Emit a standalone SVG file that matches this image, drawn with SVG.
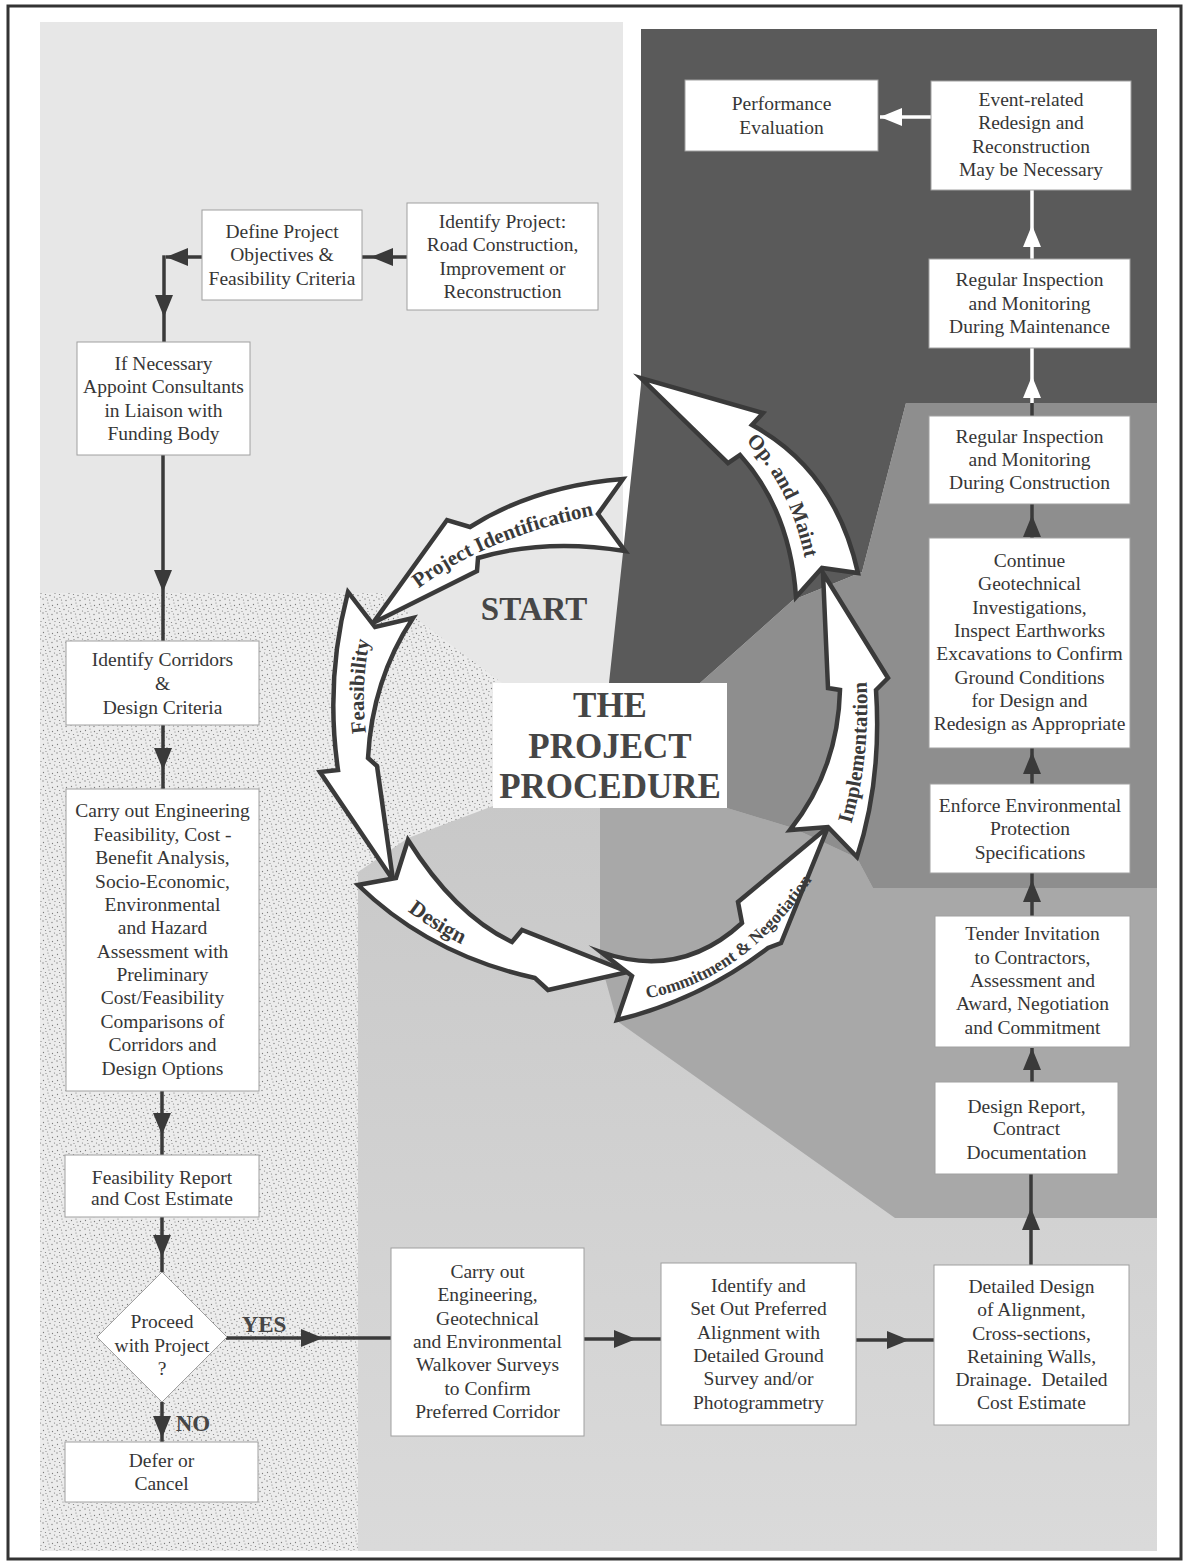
<svg xmlns="http://www.w3.org/2000/svg" width="1187" height="1564" viewBox="0 0 1187 1564">
<defs>
<style>
.t{font-family:"Liberation Serif","Times New Roman",serif;font-size:19.5px;fill:#363636;text-anchor:middle}
.box{fill:#fff;stroke:#a0a0a0;stroke-width:1}
.ln{fill:none;stroke:#3a3a3a;stroke-width:3.5}
.lnw{fill:none;stroke:#fff;stroke-width:3.5}
.arw{fill:#fff;stroke:#3a3a3a;stroke-width:4.5;stroke-linejoin:miter;stroke-miterlimit:10}
.al{font-family:"Liberation Serif","Times New Roman",serif;font-weight:bold;font-size:21px;fill:#3a3a3a}
.big{font-family:"Liberation Serif","Times New Roman",serif;font-weight:bold;fill:#464646;text-anchor:middle}
</style>
<marker id="ah" viewBox="0 0 22 18" refX="22" refY="9" markerWidth="22" markerHeight="18" markerUnits="userSpaceOnUse" orient="auto">
<path d="M0,0 L22,9 L0,18 Z" fill="#3a3a3a"/>
</marker>
<marker id="ahw" viewBox="0 0 22 18" refX="22" refY="9" markerWidth="22" markerHeight="18" markerUnits="userSpaceOnUse" orient="auto">
<path d="M0,0 L22,9 L0,18 Z" fill="#fff"/>
</marker>
<pattern id="stipple" width="14" height="14" patternUnits="userSpaceOnUse">
<rect width="14" height="14" fill="#ececec"/>
<g fill="#7c7c7c">
<circle cx="1.5" cy="2.5" r="0.65"/><circle cx="6" cy="1" r="0.6"/><circle cx="10.5" cy="3.5" r="0.65"/>
<circle cx="3.5" cy="6.5" r="0.6"/><circle cx="8" cy="7.5" r="0.65"/><circle cx="12.5" cy="9" r="0.6"/>
<circle cx="1" cy="11" r="0.65"/><circle cx="5.5" cy="12" r="0.6"/><circle cx="10" cy="12.5" r="0.65"/>
<circle cx="13" cy="5.5" r="0.6"/><circle cx="7" cy="4" r="0.55"/><circle cx="4" cy="9.5" r="0.55"/>
</g>
</pattern>
<linearGradient id="designShade" gradientUnits="userSpaceOnUse" x1="0" y1="800" x2="0" y2="1550">
<stop offset="0" stop-color="#c8c8c8"/>
<stop offset="1" stop-color="#dadada"/>
</linearGradient>
<!-- baselines for the phase labels on the cycle arrows -->
<path id="pPI" d="M409,596 Q480,537 606,513"/>
<path id="pFE" d="M368,745 Q358,690 372,628"/>
<path id="pDE" d="M392,898 Q428,930 480,953"/>
<path id="pCN" d="M636,1000 Q750,985 826,858"/>
<path id="pIM" d="M848,835 Q872,760 866,670"/>
<path id="pOM" d="M733,430 Q792,478 808,575"/>
</defs>

<rect width="1187" height="1564" fill="#fff"/>

<!-- shaded stage regions -->
<g id="regions">
<rect x="40" y="22" width="583" height="800" fill="#e7e7e7"/>
<rect x="358" y="805" width="799" height="746" fill="url(#designShade)"/>
<polygon points="40,593 382,593 502,683 493,806 408,838 358,872 358,1551 40,1551" fill="url(#stipple)"/>
<polygon points="600,808 727,808 793,828 857,858 873,888 1157,888 1157,1218 895,1218 617,1021 600,960" fill="#a8a8a8"/>
<polygon points="906,403 1157,403 1157,888 873,888 857,858 793,828 727,808 727,683 700,683 793,600 862,572" fill="#8e8e8e"/>
<polygon points="641,29 1157,29 1157,403 906,403 862,572 793,600 700,683 609,683 641,385" fill="#5a5a5a"/>
</g>

<rect x="8" y="6" width="1173" height="1553" fill="none" stroke="#333" stroke-width="3"/>

<!-- project cycle -->
<g id="cycle">
<g id="arrow-identification">
<path class="arw" d="M623,479 Q535,486 470,527 L447,520 L373,623 L477,571 L478,558 Q545,538 625,551 L598,514 Z"/>
<text class="al"><textPath href="#pPI" startOffset="50%" text-anchor="middle">Project Identification</textPath></text>
</g>
<g id="arrow-feasibility">
<path class="arw" d="M413,618 Q372,680 368,758 L377,766 L393,880 L320,772 L338,770 Q325,680 348,592 L375,627 Z"/>
<text class="al"><textPath href="#pFE" startOffset="50%" text-anchor="middle">Feasibility</textPath></text>
</g>
<g id="arrow-design">
<path class="arw" d="M408,840 Q455,915 512,942 L522,930 L628,972 L548,990 L535,978 Q430,955 358,885 L396,878 Z"/>
<text class="al" style="font-size:22px"><textPath href="#pDE" startOffset="50%" text-anchor="middle">Design</textPath></text>
</g>
<g id="arrow-commitment">
<path class="arw" d="M601,952 Q680,980 742,923 L738,902 L828,827 L781,943 L768,948 Q700,1000 617,1020 L632,976 Z"/>
<text class="al" style="font-size:17.5px"><textPath href="#pCN" startOffset="47%" text-anchor="middle">Commitment &amp; Negotiation</textPath></text>
</g>
<g id="arrow-implementation">
<path class="arw" d="M790,830 Q838,770 840,690 L828,688 L823,573 L888,678 L876,690 Q882,780 857,857 L828,827 Z"/>
<text class="al"><textPath href="#pIM" startOffset="50%" text-anchor="middle">Implementation</textPath></text>
</g>
<g id="arrow-operation">
<path class="arw" d="M858,573 Q835,470 752,425 L763,413 L641,378 L728,463 L740,455 Q790,510 796,597 L822,568 Z"/>
<text class="al"><textPath href="#pOM" startOffset="50%" text-anchor="middle">Op. and Maint</textPath></text>
</g>
<text id="start" class="big" x="534" y="620" font-size="33">START</text>
</g>

<g id="title">
<rect x="493" y="683" width="234" height="125" fill="#fff"/>
<text class="big" x="610" y="717" font-size="35">THE</text>
<text class="big" x="610" y="758" font-size="35">PROJECT</text>
<text class="big" x="610" y="798" font-size="35">PROCEDURE</text>
</g>

<!-- connectors -->
<g id="connectors">
<path class="ln" d="M407,257 L371,257 L362,257" marker-mid="url(#ah)"/>
<path class="ln" d="M202,257 L166,257" marker-end="url(#ah)"/>
<path class="ln" d="M164,255.3 L164,317 L164,342" marker-mid="url(#ah)"/>
<path class="ln" d="M163,455 L163,592 L163,641" marker-mid="url(#ah)"/>
<path class="ln" d="M163,725 L163,770 L163,789" marker-mid="url(#ah)"/>
<path class="ln" d="M162,1091 L162,1135 L162,1155" marker-mid="url(#ah)"/>
<path class="ln" d="M162,1217 L162,1257 L162,1272" marker-mid="url(#ah)"/>
<path class="ln" d="M162,1402 L162,1438 L162,1442" marker-mid="url(#ah)"/>
<path class="ln" d="M226,1338 L323,1338 L391,1338" marker-mid="url(#ah)"/>
<path class="ln" d="M584,1339 L636,1339 L661,1339" marker-mid="url(#ah)"/>
<path class="ln" d="M856,1340 L909,1340 L934,1340" marker-mid="url(#ah)"/>
<path class="ln" d="M1031,1265 L1031,1208 L1031,1174" marker-mid="url(#ah)"/>
<path class="ln" d="M1032,1082 L1032,1048" marker-end="url(#ah)"/>
<path class="ln" d="M1032,916 L1032,880 L1032,873" marker-mid="url(#ah)"/>
<path class="ln" d="M1032,784 L1032,752 L1032,748" marker-mid="url(#ah)"/>
<path class="ln" d="M1032,538 L1032,515 L1032,504" marker-mid="url(#ah)"/>
<path class="ln" d="M1032,416 L1032,403"/>
<path class="lnw" d="M1032,403 L1032,376 L1032,348" marker-mid="url(#ahw)"/>
<path class="lnw" d="M1032,259 L1032,225 L1032,190" marker-mid="url(#ahw)"/>
<path class="lnw" d="M931,117 L880,117" marker-end="url(#ahw)"/>
<text class="big" x="264" y="1332" font-size="23">YES</text>
<text class="big" x="193" y="1431" font-size="23">NO</text>
</g>

<!-- process steps -->
<g id="identify-project">
<rect class="box" x="407" y="203" width="191" height="107"/>
<text class="t" x="502.5" y="227.5">Identify Project:</text>
<text class="t" x="502.5" y="251">Road Construction,</text>
<text class="t" x="502.5" y="274.5">Improvement or</text>
<text class="t" x="502.5" y="298">Reconstruction</text>
</g>
<g id="define-objectives">
<rect class="box" x="202" y="210" width="160" height="90"/>
<text class="t" x="282" y="237.5">Define Project</text>
<text class="t" x="282" y="261">Objectives &amp;</text>
<text class="t" x="282" y="284.5">Feasibility Criteria</text>
</g>
<g id="appoint-consultants">
<rect class="box" x="77" y="342" width="173" height="113"/>
<text class="t" x="163.5" y="369.5">If Necessary</text>
<text class="t" x="163.5" y="393">Appoint Consultants</text>
<text class="t" x="163.5" y="416.5">in Liaison with</text>
<text class="t" x="163.5" y="440">Funding Body</text>
</g>
<g id="identify-corridors">
<rect class="box" x="66" y="641" width="193" height="84"/>
<text class="t" x="162.5" y="665.5">Identify Corridors</text>
<text class="t" x="162.5" y="689.5">&amp;</text>
<text class="t" x="162.5" y="713.5">Design Criteria</text>
</g>
<g id="feasibility-studies">
<rect class="box" x="66" y="789" width="193" height="302"/>
<text class="t" x="162.5" y="817">Carry out Engineering</text>
<text class="t" x="162.5" y="840.5">Feasibility, Cost -</text>
<text class="t" x="162.5" y="864">Benefit Analysis,</text>
<text class="t" x="162.5" y="887.5">Socio-Economic,</text>
<text class="t" x="162.5" y="911">Environmental</text>
<text class="t" x="162.5" y="934">and Hazard</text>
<text class="t" x="162.5" y="957.5">Assessment with</text>
<text class="t" x="162.5" y="981">Preliminary</text>
<text class="t" x="162.5" y="1004">Cost/Feasibility</text>
<text class="t" x="162.5" y="1028">Comparisons of</text>
<text class="t" x="162.5" y="1051">Corridors and</text>
<text class="t" x="162.5" y="1074.5">Design Options</text>
</g>
<g id="feasibility-report">
<rect class="box" x="65" y="1155" width="194" height="62"/>
<text class="t" x="162" y="1183.5">Feasibility Report</text>
<text class="t" x="162" y="1205">and Cost Estimate</text>
</g>
<g id="proceed-decision">
<polygon class="box" points="162,1272 227,1337 162,1402 97,1337"/>
<text class="t" x="162" y="1327.5">Proceed</text>
<text class="t" x="162" y="1351.5">with Project</text>
<text class="t" x="162" y="1374.5">?</text>
</g>
<g id="defer-cancel">
<rect class="box" x="65" y="1442" width="193" height="60"/>
<text class="t" x="161.5" y="1466.5">Defer or</text>
<text class="t" x="161.5" y="1489.5">Cancel</text>
</g>
<g id="walkover-surveys">
<rect class="box" x="391" y="1248" width="193" height="188"/>
<text class="t" x="487.5" y="1277.5">Carry out</text>
<text class="t" x="487.5" y="1300.5">Engineering,</text>
<text class="t" x="487.5" y="1324.5">Geotechnical</text>
<text class="t" x="487.5" y="1347.5">and Environmental</text>
<text class="t" x="487.5" y="1370.5">Walkover Surveys</text>
<text class="t" x="487.5" y="1394.5">to Confirm</text>
<text class="t" x="487.5" y="1417.5">Preferred Corridor</text>
</g>
<g id="set-out-alignment">
<rect class="box" x="661" y="1263" width="195" height="162"/>
<text class="t" x="758.5" y="1291.5">Identify and</text>
<text class="t" x="758.5" y="1314.5">Set Out Preferred</text>
<text class="t" x="758.5" y="1338.5">Alignment with</text>
<text class="t" x="758.5" y="1361.5">Detailed Ground</text>
<text class="t" x="758.5" y="1384.5">Survey and/or</text>
<text class="t" x="758.5" y="1408.5">Photogrammetry</text>
</g>
<g id="detailed-design">
<rect class="box" x="934" y="1265" width="195" height="160"/>
<text class="t" x="1031.5" y="1292.5">Detailed Design</text>
<text class="t" x="1031.5" y="1315.5">of Alignment,</text>
<text class="t" x="1031.5" y="1339.5">Cross-sections,</text>
<text class="t" x="1031.5" y="1362.5">Retaining Walls,</text>
<text class="t" x="1031.5" y="1385.5" xml:space="preserve">Drainage.  Detailed</text>
<text class="t" x="1031.5" y="1408.5">Cost Estimate</text>
</g>
<g id="design-report">
<rect class="box" x="935" y="1082" width="183" height="92"/>
<text class="t" x="1026.5" y="1112.5">Design Report,</text>
<text class="t" x="1026.5" y="1134.5">Contract</text>
<text class="t" x="1026.5" y="1158.5">Documentation</text>
</g>
<g id="tender">
<rect class="box" x="935" y="916" width="195" height="131"/>
<text class="t" x="1032.5" y="939.5">Tender Invitation</text>
<text class="t" x="1032.5" y="963.5">to Contractors,</text>
<text class="t" x="1032.5" y="986.5">Assessment and</text>
<text class="t" x="1032.5" y="1009.5">Award, Negotiation</text>
<text class="t" x="1032.5" y="1033.5">and Commitment</text>
</g>
<g id="environmental-protection">
<rect class="box" x="930" y="784" width="200" height="89"/>
<text class="t" x="1030" y="811.5">Enforce Environmental</text>
<text class="t" x="1030" y="834.5">Protection</text>
<text class="t" x="1030" y="858.5">Specifications</text>
</g>
<g id="continue-investigations">
<rect class="box" x="929" y="538" width="201" height="210"/>
<text class="t" x="1029.5" y="566.5">Continue</text>
<text class="t" x="1029.5" y="589.5">Geotechnical</text>
<text class="t" x="1029.5" y="613.5">Investigations,</text>
<text class="t" x="1029.5" y="636.5">Inspect Earthworks</text>
<text class="t" x="1029.5" y="659.5">Excavations to Confirm</text>
<text class="t" x="1029.5" y="683.5">Ground Conditions</text>
<text class="t" x="1029.5" y="706.5">for Design and</text>
<text class="t" x="1029.5" y="729.5">Redesign as Appropriate</text>
</g>
<g id="inspection-construction">
<rect class="box" x="929" y="416" width="201" height="88"/>
<text class="t" x="1029.5" y="442.5">Regular Inspection</text>
<text class="t" x="1029.5" y="465.5">and Monitoring</text>
<text class="t" x="1029.5" y="488.5">During Construction</text>
</g>
<g id="inspection-maintenance">
<rect class="box" x="929" y="259" width="201" height="89"/>
<text class="t" x="1029.5" y="285.5">Regular Inspection</text>
<text class="t" x="1029.5" y="309.5">and Monitoring</text>
<text class="t" x="1029.5" y="332.5">During Maintenance</text>
</g>
<g id="event-redesign">
<rect class="box" x="931" y="81" width="200" height="109"/>
<text class="t" x="1031" y="105.5">Event-related</text>
<text class="t" x="1031" y="128.5">Redesign and</text>
<text class="t" x="1031" y="152.5">Reconstruction</text>
<text class="t" x="1031" y="175.5">May be Necessary</text>
</g>
<g id="performance-evaluation">
<rect class="box" x="685" y="80" width="193" height="71"/>
<text class="t" x="781.5" y="109.5">Performance</text>
<text class="t" x="781.5" y="133.5">Evaluation</text>
</g>
</svg>
